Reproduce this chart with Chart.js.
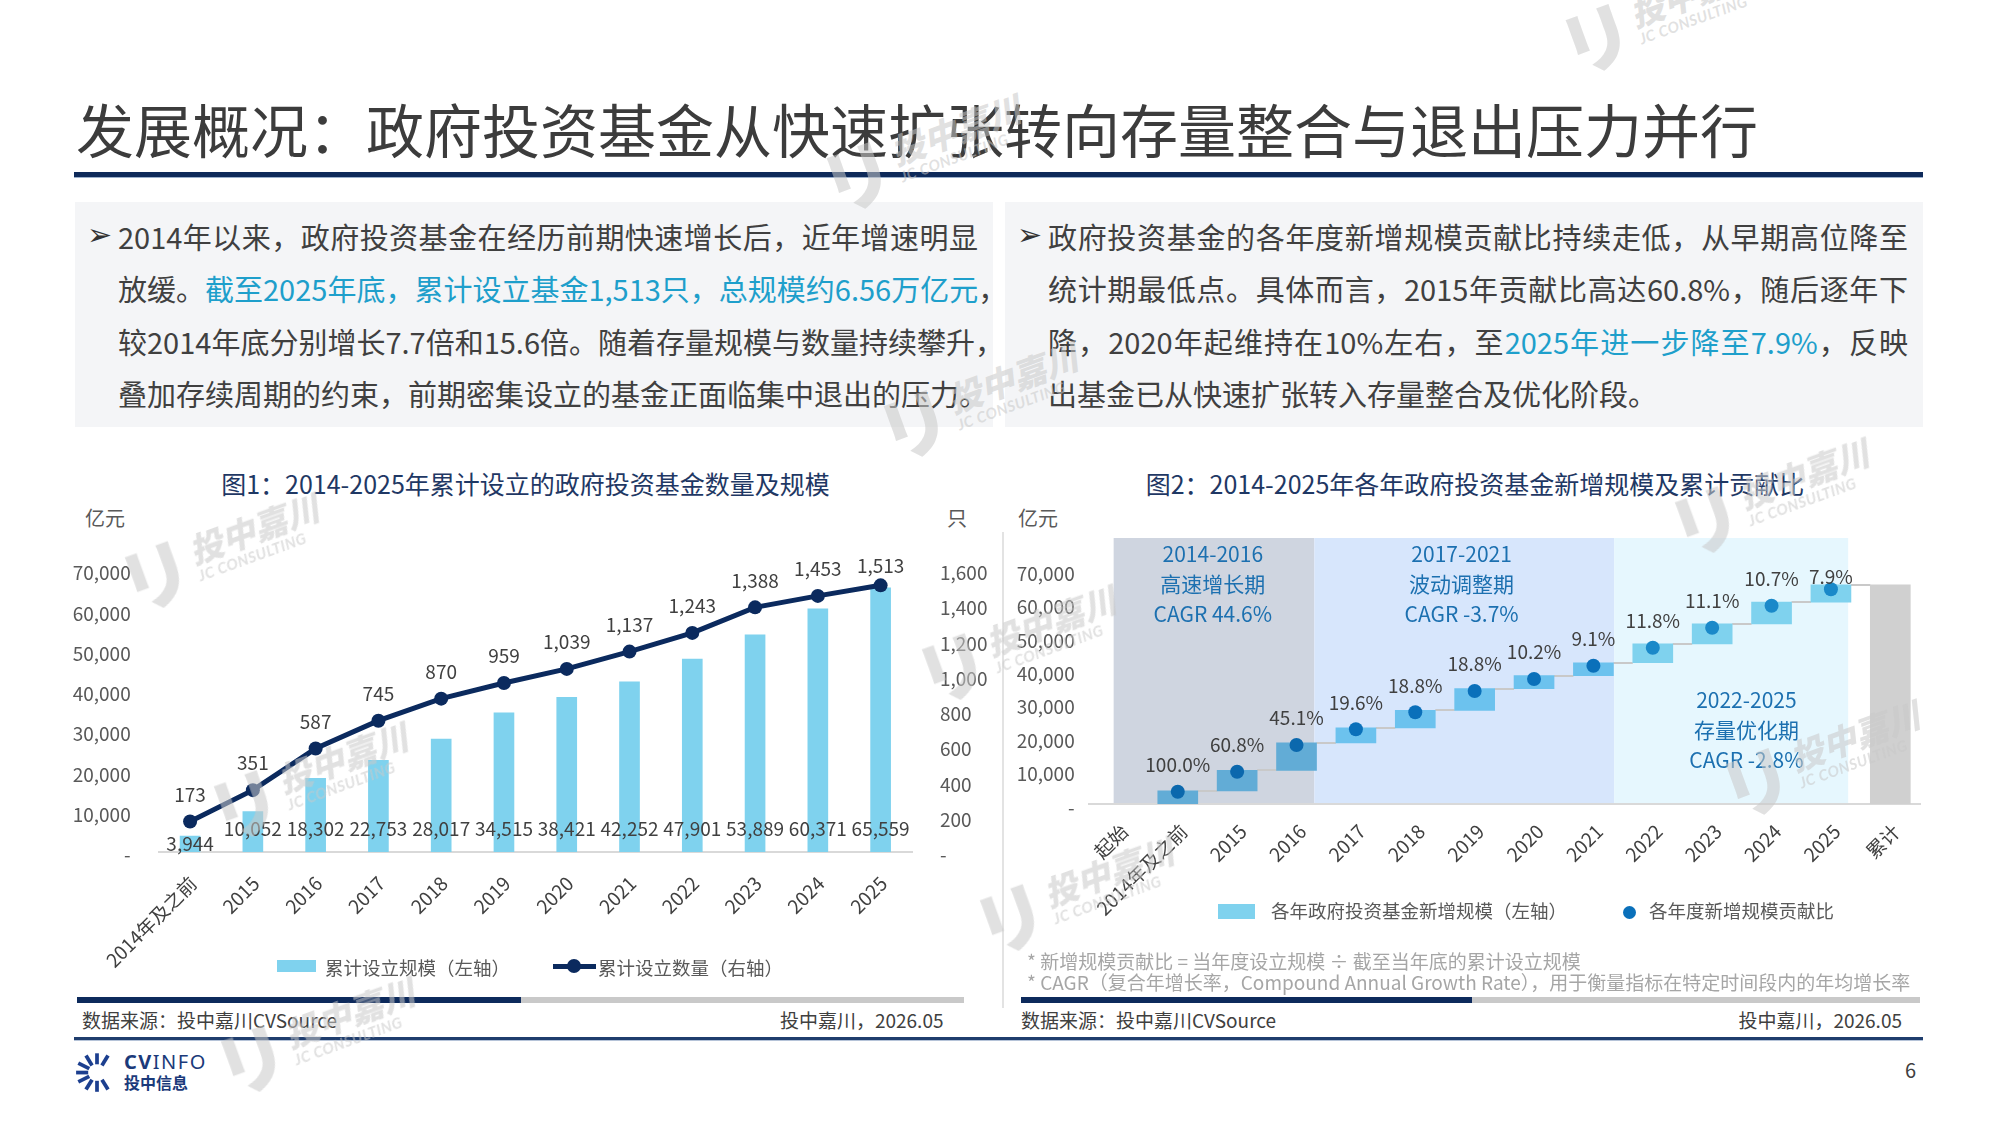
<!DOCTYPE html>
<html lang="zh-CN">
<head>
<meta charset="utf-8">
<title>发展概况：政府投资基金从快速扩张转向存量整合与退出压力并行</title>
<script src="https://cdn.jsdelivr.net/npm/chart.js@4.4.1/dist/chart.umd.min.js"></script>
<style>
*{box-sizing:border-box}
html,body{margin:0;padding:0;background:#fff}
body{width:2000px;height:1125px;position:relative;overflow:hidden;font-family:"Noto Sans CJK SC","Noto Sans",sans-serif;color:#404040}
.a{position:absolute;white-space:nowrap}
.title{left:76px;top:92px;font-size:58px;line-height:72px;color:#3c3c3c}
.box{background:#f4f5f7;top:202px;height:225px;width:918px}
.ln{font-size:29px;line-height:52px;height:52px}
.j{text-align:justify;text-align-last:justify}
.hl{color:#1e9fcb}
.bul{font-family:"DejaVu Sans";font-size:30px;line-height:52px;color:#333}
.ct{font-size:25px;line-height:30px;color:#1f3864;text-align:center;width:900px}
.unit{font-size:20px;line-height:24px;color:#595959}
.lg{font-size:18.5px;line-height:24px;color:#595959}
.note{font-size:19px;line-height:22px;color:#a6a6a6}
.src{font-size:19px;line-height:24px;color:#404040}
.band{font-size:21px;line-height:30px;color:#1c70b0;text-align:center;width:240px}
canvas{position:absolute}
.wm{position:absolute;display:flex;align-items:center;transform:rotate(-20deg);transform-origin:left center;color:rgba(200,200,200,0.55);z-index:10;pointer-events:none;white-space:nowrap}
.wl{font-family:"Noto Sans CJK JP";font-weight:900;font-size:72px;line-height:72px;margin-right:4px}
.wt{display:flex;flex-direction:column;font-weight:900;font-size:34px;line-height:36px;font-style:italic}
.we{font-family:Lato,sans-serif;font-size:15px;line-height:16px;font-weight:700;letter-spacing:0.5px}
</style>
</head>
<body>

<div class="a title">发展概况：政府投资基金从快速扩张转向存量整合与退出压力并行</div>
<div class="a" style="left:74px;top:172px;width:1849px;height:5px;background:#0e2a5a"></div>
<div class="a" style="left:74px;top:177px;width:1849px;height:1px;background:#9bb0cc"></div>

<div class="a box" style="left:75px"></div>
<div class="a box" style="left:1005px"></div>

<div class="a bul" style="left:87px;top:209px">➢</div>
<div class="a ln j" style="left:118px;top:210px;width:860px">2014年以来，政府投资基金在经历前期快速增长后，近年增速明显</div>
<div class="a ln" style="left:118px;top:262.3px">放缓。<span class="hl">截至2025年底，累计设立基金1,513只，总规模约6.56万亿元</span>，</div>
<div class="a ln" style="left:118px;top:314.6px">较2014年底分别增长7.7倍和15.6倍。随着存量规模与数量持续攀升，</div>
<div class="a ln" style="left:118px;top:366.9px">叠加存续周期的约束，前期密集设立的基金正面临集中退出的压力。</div>

<div class="a bul" style="left:1017px;top:209px">➢</div>
<div class="a ln j" style="left:1048px;top:210px;width:860px">政府投资基金的各年度新增规模贡献比持续走低，从早期高位降至</div>
<div class="a ln j" style="left:1048px;top:262.3px;width:860px">统计期最低点。具体而言，2015年贡献比高达60.8%，随后逐年下</div>
<div class="a ln j" style="left:1048px;top:314.6px;width:860px">降，2020年起维持在10%左右，至<span class="hl">2025年进一步降至7.9%</span>，反映</div>
<div class="a ln" style="left:1048px;top:366.9px">出基金已从快速扩张转入存量整合及优化阶段。</div>

<div class="a ct" style="left:75.5px;top:467.8px">图1：2014-2025年累计设立的政府投资基金数量及规模</div>
<div class="a ct" style="left:1025px;top:467.8px">图2：2014-2025年各年政府投资基金新增规模及累计贡献比</div>

<div class="a unit" style="left:85px;top:506px">亿元</div>
<div class="a unit" style="left:947px;top:506px">只</div>
<div class="a unit" style="left:1018px;top:506px">亿元</div>

<div class="a" style="left:1002px;top:532px;width:2px;height:476px;background:#e3e3e3"></div>

<canvas id="c1" width="940" height="450" style="left:60px;top:540px"></canvas>
<canvas id="c2" width="930" height="440" style="left:1005px;top:520px"></canvas>

<div class="a band" style="left:1092.8px;top:538px">2014-2016<br>高速增长期<br>CAGR 44.6%</div>
<div class="a band" style="left:1341.6px;top:538px">2017-2021<br>波动调整期<br>CAGR -3.7%</div>
<div class="a band" style="left:1626.4px;top:684px">2022-2025<br>存量优化期<br>CAGR -2.8%</div>

<!-- legend chart 1 -->
<div class="a" style="left:277px;top:959.5px;width:39px;height:12.5px;background:#7fd2ee"></div>
<div class="a lg" style="left:325px;top:955px">累计设立规模（左轴）</div>
<div class="a" style="left:553px;top:963.5px;width:43px;height:5px;background:#0b2a5e"></div>
<div class="a" style="left:567px;top:959px;width:14px;height:14px;border-radius:50%;background:#0b2a5e"></div>
<div class="a lg" style="left:598px;top:955px">累计设立数量（右轴）</div>

<!-- legend chart 2 -->
<div class="a" style="left:1218px;top:903.5px;width:37px;height:15.5px;background:#7fd2ee"></div>
<div class="a lg" style="left:1271px;top:897.7px">各年政府投资基金新增规模（左轴）</div>
<div class="a" style="left:1623px;top:905.5px;width:13px;height:13px;border-radius:50%;background:#0a70ba"></div>
<div class="a lg" style="left:1649px;top:897.7px">各年度新增规模贡献比</div>

<div class="a note" style="left:1027px;top:949.6px">* 新增规模贡献比 = 当年度设立规模 ÷ 截至当年底的累计设立规模</div>
<div class="a note" style="left:1027px;top:971.2px">* CAGR（复合年增长率，Compound Annual Growth Rate），用于衡量指标在特定时间段内的年均增长率</div>

<div class="a" style="left:77px;top:997px;width:444px;height:5.5px;background:#0d2a5c"></div>
<div class="a" style="left:521px;top:997px;width:443px;height:5.5px;background:#c9c9c9"></div>
<div class="a" style="left:1021px;top:997px;width:451px;height:5.5px;background:#0d2a5c"></div>
<div class="a" style="left:1472px;top:997px;width:448px;height:5.5px;background:#c9c9c9"></div>

<div class="a src" style="left:82px;top:1008px">数据来源：投中嘉川CVSource</div>
<div class="a src" style="right:1056.5px;top:1008px">投中嘉川，2026.05</div>
<div class="a src" style="left:1021px;top:1008px">数据来源：投中嘉川CVSource</div>
<div class="a src" style="right:98px;top:1008px">投中嘉川，2026.05</div>

<div class="a" style="left:74px;top:1037px;width:1849px;height:2.5px;background:#1f3d6d"></div>
<div class="a" style="left:74px;top:1039.5px;width:1849px;height:1px;background:#b5c3d8"></div>

<svg class="a" style="left:75px;top:1052px" width="44" height="40" viewBox="0 0 40 36">
  <g stroke="#1c3f8f" stroke-width="3.4" stroke-linecap="butt">
    <line x1="20" y1="11" x2="20" y2="1"/>
    <line x1="15.5" y1="12" x2="10" y2="3"/>
    <line x1="24.5" y1="12" x2="30" y2="3"/>
    <line x1="13" y1="15" x2="3" y2="10"/>
    <line x1="12" y1="18.5" x2="1" y2="18.5"/>
    <line x1="13" y1="22" x2="3" y2="27"/>
    <line x1="15.5" y1="25" x2="10" y2="34"/>
    <line x1="20" y1="26" x2="20" y2="36"/>
    <line x1="24.5" y1="25" x2="30" y2="34"/>
  </g>
</svg>
<div class="a" style="left:124px;top:1051px;font-family:'Noto Sans',sans-serif;font-size:20px;line-height:22px;letter-spacing:1.5px;color:#1b3a7a"><b>CV</b>INFO</div>
<div class="a" style="left:124px;top:1073px;font-size:16px;line-height:18px;font-weight:700;color:#1b3a7a">投中信息</div>
<div class="a" style="left:1905px;top:1058px;font-size:20px;line-height:24px;color:#404040">6</div>

<div id="wms"></div>

<script>
// ---------- data ----------
const years = ['2014年及之前','2015','2016','2017','2018','2019','2020','2021','2022','2023','2024','2025'];
const cumulativeScale = [3944,10052,18302,22753,28017,34515,38421,42252,47901,53889,60371,65559]; // 亿元
const cumulativeCount = [173,351,587,745,870,959,1039,1137,1243,1388,1453,1513]; // 只
const scaleAxisMax = 70000, scaleAxisStep = 10000;
const countAxisMax = 1600, countAxisStep = 200;

const waterfallCategories = ['起始', ...years, '累计'];
const contributionPct = [100.0,60.8,45.1,19.6,18.8,18.8,10.2,9.1,11.8,11.1,10.7,7.9];
const contributionDotLevel = [3680,9660,17650,22350,27430,33800,37390,41370,46750,52740,59320,64220];

// ---------- helpers ----------
const fam = "'Noto Sans CJK SC','Noto Sans',sans-serif";
Chart.defaults.font.family = fam;
Chart.defaults.animation = false;
const fmt = v => v.toLocaleString('en-US');

// make the plot area land exactly on the target box (canvas coords)
function calibrate(chart, t, cfg) {
  for (let k = 0; k < 5; k++) {
    const a = chart.chartArea;
    const dl = t.left - a.left, dr = a.right - t.right, dt = t.top - a.top, db = a.bottom - t.bottom;
    if (Math.abs(dl) + Math.abs(dr) + Math.abs(dt) + Math.abs(db) < 0.3) break;
    cfg.yW += dl; cfg.rW += dr; cfg.padTop += dt; cfg.xH += db;
    chart.config.options.layout.padding = {top: cfg.padTop, left: 0, bottom: 0, right: cfg.rightIsPadding ? cfg.rW : 0};
    chart.update('none');
  }
}

// ---------- chart 1 ----------
const labels1 = {
  id: 'labels1',
  afterDatasetsDraw(chart) {
    const {ctx, chartArea: a} = chart;
    const bars = chart.getDatasetMeta(0).data;
    const pts = chart.getDatasetMeta(1).data;
    ctx.save();
    ctx.font = '19px ' + fam;
    ctx.fillStyle = '#404040';
    ctx.textAlign = 'center';
    ctx.textBaseline = 'middle';
    bars.forEach((b, i) => ctx.fillText(fmt(cumulativeScale[i]), b.x, i === 0 ? a.bottom - 8 : a.bottom - 23));
    pts.forEach((p, i) => ctx.fillText(fmt(cumulativeCount[i]), p.x, p.y - (i === pts.length - 1 ? 20 : 27)));
    ctx.restore();
  }
};

const yTickGrid = len => ({display: false, drawTicks: true, tickLength: len});

const c1cfg = {padTop: 30, xH: 138, yW: 98.7, rW: 88, rightIsPadding: false};
const chart1 = new Chart(document.getElementById('c1'), {
  type: 'bar',
  data: {
    labels: years,
    datasets: [
      {type: 'bar', label: '累计设立规模（左轴）', data: cumulativeScale, yAxisID: 'y',
       backgroundColor: '#7fd2ee', barThickness: 20, order: 2},
      {type: 'line', label: '累计设立数量（右轴）', data: cumulativeCount, yAxisID: 'y1',
       borderColor: '#0b2a5e', backgroundColor: '#0b2a5e', borderWidth: 5, pointRadius: 7,
       pointBackgroundColor: '#0b2a5e', pointBorderWidth: 0, tension: 0, order: 1}
    ]
  },
  options: {
    responsive: false, animation: false,
    layout: {padding: {top: 30, left: 0, right: 0, bottom: 0}},
    plugins: {legend: {display: false}, tooltip: {enabled: false}},
    scales: {
      x: {grid: {display: false, drawTicks: false}, border: {display: true, color: '#d9d9d9', width: 2},
          ticks: {autoSkip: false, minRotation: 45, maxRotation: 45, padding: 20, labelOffset: 3, color: '#404040', font: {size: 19}},
          afterFit(s) { s.height = c1cfg.xH; }},
      y: {position: 'left', min: 0, max: scaleAxisMax, grid: yTickGrid(26), border: {display: false},
          ticks: {stepSize: scaleAxisStep, padding: 2, labelOffset: 3, color: '#595959', font: {size: 19}, callback: v => v === 0 ? '-' : fmt(v)},
          afterFit(s) { s.width = c1cfg.yW; }},
      y1: {position: 'right', min: 0, max: countAxisMax, grid: yTickGrid(26), border: {display: false},
          ticks: {stepSize: countAxisStep, padding: 2, labelOffset: 3, color: '#595959', font: {size: 19}, callback: v => v === 0 ? '-' : fmt(v)},
          afterFit(s) { s.width = c1cfg.rW; }}
    }
  },
  plugins: [labels1]
});
calibrate(chart1, {left: 98.7, right: 852, top: 30, bottom: 312}, c1cfg);

// ---------- chart 2 ----------
const last = waterfallCategories.length - 1;
const wfData = waterfallCategories.map((c, i) => {
  if (i === 0) return null;
  if (i === last) return [0, cumulativeScale[cumulativeScale.length - 1]];
  return [i === 1 ? 0 : cumulativeScale[i - 2], cumulativeScale[i - 1]];
});
const dotData = waterfallCategories.map((c, i) => (i > 0 && i < last) ? contributionDotLevel[i - 1] : null);
const periodOf = i => i <= 3 ? 0 : (i <= 8 ? 1 : 2);
const barColors = waterfallCategories.map((c, i) => i === 0 ? 'rgba(0,0,0,0)' : (i === last ? '#d0d0d0' : ['#62acd6', '#6cc2ee', '#7fd2ee'][periodOf(i)]));
const dotColors = waterfallCategories.map((c, i) => ['#0b68ad', '#0a70ba', '#1a89c9'][periodOf(i)]);

const bands = [
  {from: -0.08, to: 3.3, color: '#cfd5e0'},
  {from: 3.3, to: 8.35, color: '#d7e6fc'},
  {from: 8.35, to: 12.29, color: '#e6f7fe'}
];

const wfPlugin = {
  id: 'wf',
  beforeDatasetsDraw(chart) {
    const {ctx, chartArea: a, scales: {x, y}} = chart;
    ctx.save();
    const top = a.top - 32;
    bands.forEach(b => {
      const x0 = x.getPixelForValue(b.from), x1 = x.getPixelForValue(b.to);
      ctx.fillStyle = b.color;
      ctx.fillRect(x0, top, x1 - x0, a.bottom - 1 - top);
    });
    const bars = chart.getDatasetMeta(0).data;
    ctx.strokeStyle = '#c9c9c9';
    ctx.lineWidth = 2;
    for (let i = 1; i < bars.length - 1; i++) {
      const yy = Math.round(y.getPixelForValue(cumulativeScale[i - 1]));
      ctx.beginPath();
      ctx.moveTo(bars[i].x + bars[i].width / 2, yy);
      ctx.lineTo(bars[i + 1].x - bars[i + 1].width / 2, yy);
      ctx.stroke();
    }
    ctx.restore();
  },
  afterDatasetsDraw(chart) {
    const {ctx} = chart;
    const dots = chart.getDatasetMeta(1).data;
    ctx.save();
    ctx.font = '19px ' + fam;
    ctx.fillStyle = '#404040';
    ctx.textAlign = 'center';
    ctx.textBaseline = 'middle';
    for (let i = 1; i < last; i++) {
      const p = dots[i];
      ctx.fillText(contributionPct[i - 1].toFixed(1) + '%', p.x, p.y - (i === last - 1 ? 13 : 27));
    }
    ctx.restore();
  }
};

const c2cfg = {padTop: 50, xH: 156, yW: 83.7, rW: 15, rightIsPadding: true};
const chart2 = new Chart(document.getElementById('c2'), {
  type: 'bar',
  data: {
    labels: waterfallCategories,
    datasets: [
      {type: 'bar', label: '各年政府投资基金新增规模（左轴）', data: wfData, backgroundColor: barColors,
       barThickness: 40, borderWidth: 0, borderSkipped: false, order: 2},
      {type: 'line', label: '各年度新增规模贡献比', data: dotData, showLine: false, pointRadius: 7,
       pointBackgroundColor: dotColors, pointBorderWidth: 0, order: 1}
    ]
  },
  options: {
    responsive: false, animation: false,
    layout: {padding: {top: 50, left: 0, right: 15, bottom: 0}},
    plugins: {legend: {display: false}, tooltip: {enabled: false}},
    scales: {
      x: {grid: {display: false, drawTicks: false}, border: {display: true, color: '#d9d9d9', width: 2},
          ticks: {autoSkip: false, minRotation: 45, maxRotation: 45, padding: 16, labelOffset: 6, color: '#404040', font: {size: 19}},
          afterFit(s) { s.height = c2cfg.xH; }},
      y: {position: 'left', min: 0, max: scaleAxisMax, grid: yTickGrid(12), border: {display: false},
          ticks: {stepSize: scaleAxisStep, padding: 2, labelOffset: 3.5, color: '#595959', font: {size: 19}, callback: v => v === 0 ? '-' : fmt(v)},
          afterFit(s) { s.width = c2cfg.yW; }}
    }
  },
  plugins: [wfPlugin]
});
calibrate(chart2, {left: 83.7, right: 915, top: 50, bottom: 284}, c2cfg);

// ---------- watermarks ----------
const wmPos = [[1562,12],[823,150],[121,549],[880,398],[918,641],[1671,494],[210,778],[1722,756],[976,892],[217,1033]];
document.getElementById('wms').innerHTML = wmPos.map(p =>
  `<div class="wm" style="left:${p[0]}px;top:${p[1]}px"><span class="wl">リ</span><span class="wt">投中嘉川<span class="we">JC CONSULTING</span></span></div>`).join('');
</script>
</body>
</html>
